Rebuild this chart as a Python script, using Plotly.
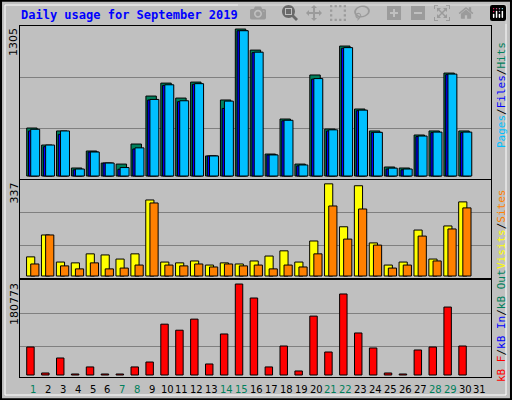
import plotly.graph_objects as go

days = list(range(1, 32))
hits = [426,275,400,71,222,115,106,284,710,825,692,834,178,675,1305,1118,195,506,106,897,417,1154,595,400,80,71,364,400,914,400,None]
files = [400,260,370,55,213,115,60,240,675,805,660,815,178,600,1290,1095,187,490,90,860,400,1135,580,385,62,55,350,385,900,385,None]
pages = [415,275,400,62,213,115,75,250,680,810,668,820,178,665,1290,1100,187,495,98,865,410,1140,585,388,70,62,355,390,905,390,None]
visits = [70,150,51,48,81,77,62,81,278,51,48,55,40,48,44,55,73,92,51,128,337,180,330,121,40,51,168,62,183,271,None]
sites = [44,150,37,26,48,26,29,40,267,40,37,44,33,44,37,40,26,40,33,81,256,135,245,113,29,40,146,55,172,249,None]
kbytes = [55600,4000,33800,2000,16000,2000,2000,16000,25800,101000,89000,111000,21900,81500,180773,153000,16000,57600,8000,117000,45700,161000,83500,53700,4000,2000,49700,55600,135000,57600,None]
weekend = [1,7,8,14,15,21,22,28,29]
title = "Daily usage for September 2019"

W, H = 512, 400
def py(p): return 1 - p / H

fig = go.Figure()
line = dict(color="black", width=1)
def bar(y, color, off, wid, ax):
    fig.add_trace(go.Bar(x=days, y=y, offset=off, width=wid, marker=dict(color=color, line=line),
                         xaxis="x" + ax, yaxis="y" + ax, showlegend=False, hoverinfo="skip"))

bar(hits, "#00805C", -0.42, 0.7, "")
bar(files, "#0000FF", -0.3, 0.7, "")
bar(pages, "#00C0FF", -0.15, 0.6, "")
bar(visits, "#FFFF00", -0.43, 0.55, "2")
bar(sites, "#FF8000", -0.15, 0.55, "2")
bar(kbytes, "#FF0000", -0.42, 0.5, "3")

xd = [20 / W, 491 / W]
xcommon = dict(range=[0.13, 31.74], showticklabels=False, showgrid=False, zeroline=False,
               showline=True, linecolor="black", mirror=True, fixedrange=True)
ycommon = dict(showticklabels=False, gridcolor="#808080", zeroline=False, showline=True,
               linecolor="black", mirror=True, ticks="")
fig.update_layout(
    width=W, height=H, margin=dict(l=0, r=0, t=0, b=0),
    paper_bgcolor="#C0C0C0", plot_bgcolor="#C0C0C0", barmode="overlay",
    xaxis=dict(domain=xd, anchor="y", **xcommon),
    xaxis2=dict(domain=xd, anchor="y2", **xcommon),
    xaxis3=dict(domain=xd, anchor="y3", **xcommon),
    yaxis=dict(domain=[py(179), py(26)], anchor="x", range=[-26.6, 1332], tickvals=[426, 879], **ycommon),
    yaxis2=dict(domain=[py(278), py(180)], anchor="x2", range=[-7.3, 351], tickvals=[110, 231], **ycommon),
    yaxis3=dict(domain=[py(377), py(280)], anchor="x3", range=[-3974, 188765], tickvals=[57600, 123000], **ycommon),
)

mono = "DejaVu Sans Mono"
ann = []
ann.append(dict(text="<b>" + title + "</b>", x=19 / W, y=py(15), xref="paper", yref="paper",
                xanchor="left", yanchor="middle", showarrow=False, font=dict(family=mono, size=12, color="#0000FF")))
for lbl, top in [("1305", 26), ("337", 181), ("180773", 281)]:
    ann.append(dict(text=lbl, x=14 / W, y=py(top), xref="paper", yref="paper", textangle=-90,
                    xanchor="center", yanchor="top", showarrow=False, font=dict(family="DejaVu Sans", size=11, color="black")))
for d in days:
    ann.append(dict(text=str(d), x=d, y=py(389), xref="x3", yref="paper", showarrow=False,
                    xanchor="center", yanchor="middle",
                    font=dict(family="DejaVu Sans", size=10, color="#00805C" if d in weekend else "black")))
def side(txt, ymid):
    ann.append(dict(text=txt, x=501 / W, y=py(ymid), xref="paper", yref="paper", textangle=-90,
                    showarrow=False, xanchor="center", yanchor="middle", font=dict(family=mono, size=11)))
side('<span style="color:#00C0FF">Pages</span><span style="color:#000">/</span><span style="color:#0000FF">Files</span><span style="color:#000">/</span><span style="color:#00805C">Hits</span>', 95)
side('<span style="color:#FFFF00">Visits</span><span style="color:#000">/</span><span style="color:#FF8000">Sites</span>', 229)
side('<span style="color:#FF0000">kB F</span><span style="color:#000">/</span><span style="color:#0000FF">kB In</span><span style="color:#000">/</span><span style="color:#00805C">kB Out</span>', 326)
fig.update_layout(annotations=ann)
fig.add_shape(type="rect", xref="paper", yref="paper", x0=0.002, x1=0.998, y0=0.002, y1=0.998,
              line=dict(color="black", width=2))
fig.add_shape(type="rect", xref="paper", yref="paper", x0=5 / W, x1=506 / W, y0=py(395), y1=py(5),
              line=dict(color="white", width=1))
fig.write_html("out.html", post_script="document.body.style.margin='0';document.body.style.overflow='hidden';")
